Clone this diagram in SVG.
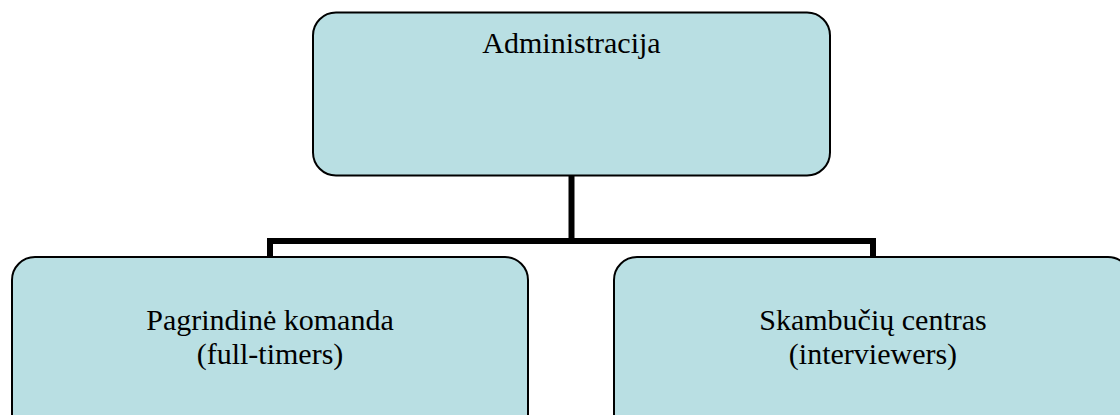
<svg xmlns="http://www.w3.org/2000/svg" width="1120" height="415" viewBox="0 0 1120 415">
<style>
.box{fill:#B9DFE3;stroke:#000;stroke-width:2}
.lbl{font-family:"Liberation Serif","Times New Roman",serif;font-size:30px;fill:#000;text-anchor:middle}
.conn{fill:none;stroke:#000;stroke-width:6}
</style>
<rect width="1120" height="415" fill="#fff"/>
<g id="connectors">
<line class="conn" x1="571.5" y1="175" x2="571.5" y2="241"/>
<polyline class="conn" points="270,257 270,241 873,241 873,257"/>
</g>
<g id="node-administracija">
<rect class="box" x="313" y="12.5" width="517" height="163" rx="23" ry="23"/>
<text class="lbl" x="571.5" y="53">Administracija</text>
</g>
<g id="node-pagrindine">
<rect class="box" x="12" y="257" width="516" height="180" rx="23" ry="23"/>
<text class="lbl" x="270" y="330">Pagrindinė komanda</text>
<text class="lbl" x="270" y="364">(full-timers)</text>
</g>
<g id="node-skambuciu">
<rect class="box" x="614" y="257" width="517" height="180" rx="23" ry="23"/>
<text class="lbl" x="873" y="330">Skambučių centras</text>
<text class="lbl" x="873" y="364">(interviewers)</text>
</g>
</svg>
